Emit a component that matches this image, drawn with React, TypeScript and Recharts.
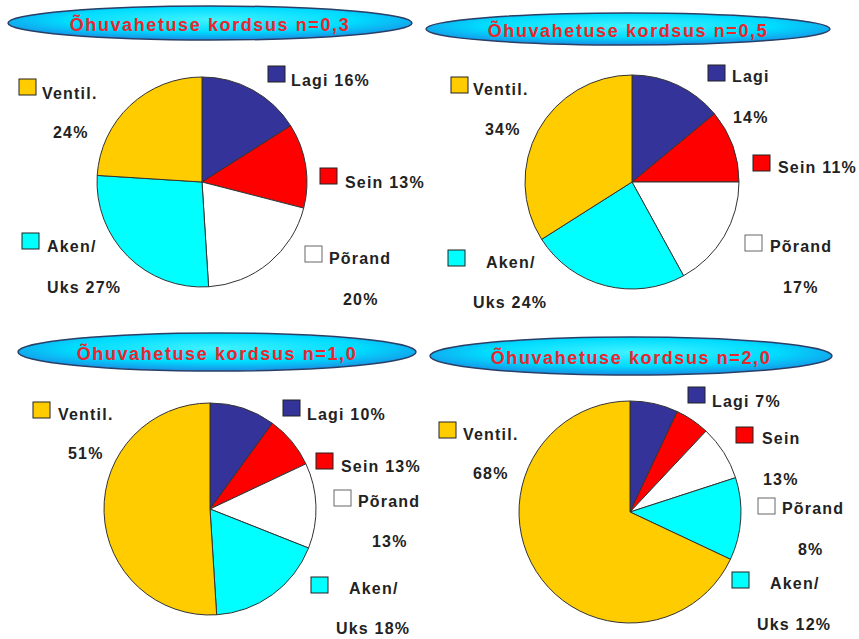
import { PieChart, Pie, Cell } from "recharts";

// categories, clockwise from 12 o'clock
const categories = ["Lagi", "Sein", "Põrand", "Aken/Uks", "Ventil."];
const colors = ["#333399", "#ff0000", "#ffffff", "#00ffff", "#ffcc00"];

const titles = [
  "Õhuvahetuse kordsus n=0,3",
  "Õhuvahetuse kordsus n=0,5",
  "Õhuvahetuse kordsus n=1,0",
  "Õhuvahetuse kordsus n=2,0",
];

// slice shares as drawn (%)
const n03 = [16, 13, 20, 27, 24];
const n05 = [14, 11, 17, 24, 34];
const n10 = [10, 8, 13, 18, 51];
const n20 = [7, 5, 8, 12, 68];

// percent texts as printed next to the legend boxes
const n03Labels = ["16%", "13%", "20%", "27%", "24%"];
const n05Labels = ["14%", "11%", "17%", "24%", "34%"];
const n10Labels = ["10%", "13%", "13%", "18%", "51%"];
const n20Labels = ["7%", "13%", "8%", "12%", "68%"];

const series = [n03, n05, n10, n20];
const seriesLabels = [n03Labels, n05Labels, n10Labels, n20Labels];

// layout of each panel
const panels = [
  { cx: 202, cy: 182, r: 105, title: { cx: 210, cy: 23, rx: 202, ry: 17 } },
  { cx: 632, cy: 182, r: 107, title: { cx: 628, cy: 29, rx: 202, ry: 16 } },
  { cx: 210, cy: 509, r: 106, title: { cx: 217, cy: 352, rx: 199, ry: 19 } },
  { cx: 630, cy: 512, r: 111, title: { cx: 631, cy: 356, rx: 201, ry: 19 } },
];

// legend box + text positions per panel (second line only where the text wraps)
type Slot = { bx: number; by: number; tx: number; ty: number; px?: number; py?: number };
const legendSlots: Slot[][] = [
  [
    { bx: 268, by: 66, tx: 291, ty: 86 },
    { bx: 320, by: 168, tx: 345, ty: 188 },
    { bx: 305, by: 246, tx: 329, ty: 264, px: 343, py: 305 },
    { bx: 22, by: 233, tx: 47, ty: 252, px: 47, py: 293 },
    { bx: 19, by: 79, tx: 42, ty: 99, px: 53, py: 138 },
  ],
  [
    { bx: 708, by: 65, tx: 732, ty: 82, px: 733, py: 123 },
    { bx: 753, by: 155, tx: 778, ty: 173 },
    { bx: 745, by: 235, tx: 770, ty: 252, px: 783, py: 293 },
    { bx: 448, by: 250, tx: 486, ty: 268, px: 473, py: 308 },
    { bx: 451, by: 77, tx: 473, ty: 95, px: 485, py: 135 },
  ],
  [
    { bx: 283, by: 400, tx: 307, ty: 420 },
    { bx: 316, by: 453, tx: 341, ty: 472 },
    { bx: 334, by: 490, tx: 358, ty: 507, px: 372, py: 547 },
    { bx: 311, by: 577, tx: 349, ty: 594, px: 336, py: 634 },
    { bx: 33, by: 402, tx: 58, ty: 420, px: 68, py: 459 },
  ],
  [
    { bx: 688, by: 387, tx: 712, ty: 407 },
    { bx: 736, by: 427, tx: 762, ty: 444, px: 763, py: 485 },
    { bx: 758, by: 498, tx: 782, ty: 514, px: 798, py: 555 },
    { bx: 732, by: 572, tx: 770, ty: 589, px: 757, py: 630 },
    { bx: 439, by: 422, tx: 463, ty: 440, px: 473, py: 479 },
  ],
];

const font = "'Liberation Sans', Arial, sans-serif";

function legendText(cat: string, pct: string, slot: Slot) {
  const [first, second] = cat === "Aken/Uks" ? ["Aken/", "Uks "] : [cat, ""];
  if (slot.px === undefined) {
    return [`${first} ${pct}`];
  }
  return [first, `${second}${pct}`];
}

export default function App() {
  return (
    <div style={{ position: "absolute", left: 0, top: 0, background: "#fff" }}>
      <PieChart width={859} height={639} margin={{ top: 0, right: 0, bottom: 0, left: 0 }}>
        <defs>
          <radialGradient id="titleFill" cx="50%" cy="40%" r="60%">
            <stop offset="0%" stopColor="#40f2ff" />
            <stop offset="60%" stopColor="#00dcff" />
            <stop offset="100%" stopColor="#1890e6" />
          </radialGradient>
        </defs>
        {panels.map((p, i) => (
          <Pie
            key={`pie${i}`}
            data={categories.map((c, k) => ({ name: c, value: series[i][k] }))}
            dataKey="value"
            nameKey="name"
            cx={p.cx}
            cy={p.cy}
            outerRadius={p.r}
            startAngle={90}
            endAngle={-270}
            stroke="#333"
            strokeWidth={1}
            isAnimationActive={false}
            label={false}
            labelLine={false}
          >
            {categories.map((c, k) => (
              <Cell key={c} fill={colors[k]} />
            ))}
          </Pie>
        ))}
        {panels.map((p, i) => (
          <g key={`title${i}`}>
            <ellipse
              cx={p.title.cx}
              cy={p.title.cy}
              rx={p.title.rx}
              ry={p.title.ry}
              fill="url(#titleFill)"
              stroke="#2a3f66"
              strokeWidth={1.5}
            />
            <text
              x={p.title.cx}
              y={p.title.cy + 8}
              textAnchor="middle"
              fontFamily={font}
              fontSize={18}
              fontWeight="bold"
              letterSpacing={1.6}
              fill="#e8262b"
            >
              {titles[i]}
            </text>
          </g>
        ))}
        {legendSlots.map((slots, i) =>
          slots.map((s, k) => {
            const lines = legendText(categories[k], seriesLabels[i][k], s);
            return (
              <g key={`leg${i}-${k}`}>
                <rect
                  x={s.bx}
                  y={s.by}
                  width={17}
                  height={16}
                  fill={colors[k]}
                  stroke={k === 2 ? "#666" : "#222"}
                  strokeWidth={1}
                />
                <text
                  x={s.tx}
                  y={s.ty}
                  fontFamily={font}
                  fontSize={16}
                  fontWeight="bold"
                  letterSpacing={1.2}
                  fill="#222"
                >
                  {lines[0]}
                </text>
                {lines[1] !== undefined && (
                  <text
                    x={s.px}
                    y={s.py}
                    fontFamily={font}
                    fontSize={16}
                    fontWeight="bold"
                    letterSpacing={1.2}
                    fill="#222"
                  >
                    {lines[1]}
                  </text>
                )}
              </g>
            );
          })
        )}
      </PieChart>
    </div>
  );
}
